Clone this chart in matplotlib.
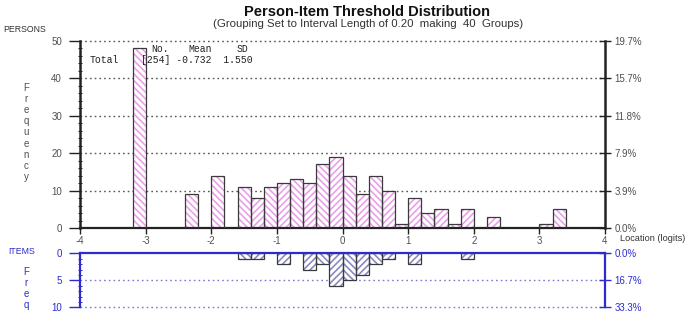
import matplotlib
matplotlib.use('Agg')
import matplotlib.pyplot as plt
from matplotlib.ticker import MultipleLocator

plt.rcParams['font.family'] = ['Liberation Sans', 'DejaVu Sans']
plt.rcParams['hatch.linewidth'] = 1.2

# ---------------- data ----------------
bin_width = 0.2
person_bin_left = [-3.2, -2.4, -2.0, -1.6, -1.4, -1.2, -1.0, -0.8, -0.6, -0.4,
                   -0.2, 0.0, 0.2, 0.4, 0.6, 0.8, 1.0, 1.2, 1.4, 1.6,
                   1.8, 2.2, 3.0, 3.2]
person_counts = [48, 9, 14, 11, 8, 11, 12, 13, 12, 17,
                 19, 14, 9, 14, 10, 1, 8, 4, 5, 1,
                 5, 3, 1, 5]
item_bin_left = [-1.6, -1.4, -1.0, -0.6, -0.4, -0.2, 0.0, 0.2, 0.4, 0.6, 1.0, 1.8]
item_counts = [1, 1, 2, 3, 2, 6, 5, 4, 2, 1, 2, 1]
x_ticks = [-4, -3, -2, -1, 0, 1, 2, 3, 4]
person_yticks = [0, 10, 20, 30, 40, 50]
item_yticks = [0, 5, 10]
persons_total = 254
persons_mean = -0.732
persons_sd = 1.550
items_total = 30

W, H = 689, 317
fig = plt.figure(figsize=(W / 100, H / 100), dpi=100)

GRAY = '#505050'
BLUE = '#2b2bd0'
EDGE = '#3a3a3a'
PINK = '#e9a0e9'
IHATCH = '#8a8ac0'


def hatch_for(left):
    idx = int(round((left + 4) / bin_width))
    return '\\\\\\\\\\' if idx % 2 == 0 else '/////'


# ---------------- upper (persons) ----------------
ax1 = fig.add_axes([80 / W, 1 - 228 / H, 525 / W, 187 / H])
ax1.set_xlim(-4, 4)
ax1.set_ylim(0, 50)
for l, c in zip(person_bin_left, person_counts):
    ax1.bar(l, c, width=bin_width, align='edge', color='white',
            edgecolor=PINK, hatch=hatch_for(l), linewidth=0, zorder=2)
ax1.bar(person_bin_left, person_counts, width=bin_width, align='edge',
        fill=False, edgecolor=EDGE, linewidth=0.9, zorder=3)
for y in person_yticks[1:]:
    ax1.axhline(y, color='#555555', linestyle=(0, (1.2, 2.2)), linewidth=1.0,
                zorder=1, clip_on=False)

ax1.spines['top'].set_visible(False)
ax1.spines['left'].set_linewidth(1.8)
ax1.spines['right'].set_linewidth(1.8)
ax1.spines['bottom'].set_linewidth(1.6)
for s in ['left', 'right', 'bottom']:
    ax1.spines[s].set_color('#222222')

ax1.set_xticks(x_ticks)
ax1.set_xticklabels([str(t) for t in x_ticks])
ax1.set_yticks(person_yticks)
ax1.yaxis.set_minor_locator(MultipleLocator(2))
ax1.tick_params(axis='y', which='major', length=8, width=1.0, color='#222222',
                labelsize=7, labelcolor=GRAY, pad=5, direction='out')
ax1.tick_params(axis='y', which='minor', length=3, width=0.7, color='#222222',
                direction='inout')
ax1.tick_params(axis='x', which='major', length=4, width=1.0, color='#222222',
                labelsize=7, labelcolor=GRAY, pad=2, direction='out')

ax1r = ax1.twinx()
ax1r.set_ylim(0, 50)
ax1r.set_yticks(person_yticks)
ax1r.set_yticklabels([f"{v / persons_total * 100:.1f}%" for v in person_yticks])
ax1r.tick_params(axis='y', length=8, width=1.0, color='#222222', direction='inout',
                 labelsize=7, labelcolor=GRAY, pad=3)
for s in ['top', 'left', 'bottom', 'right']:
    ax1r.spines[s].set_visible(False)

# statistics box
mono = dict(family='Liberation Mono', fontsize=7, color='#222222', va='center', ha='left')
fig.text(151 / W, 1 - 49.5 / H, 'No.', **mono)
fig.text(188 / W, 1 - 49.5 / H, 'Mean', **mono)
fig.text(237 / W, 1 - 49.5 / H, 'SD', **mono)
fig.text(90 / W, 1 - 60 / H, 'Total', **mono)
fig.text(141 / W, 1 - 60 / H, f'[{persons_total}] {persons_mean:.3f}  {persons_sd:.3f}', **mono)

# titles
fig.text(367 / W, 1 - 11.5 / H, 'Person-Item Threshold Distribution', fontsize=10.5,
         fontweight='bold', ha='center', va='center', color='#111111')
fig.text(368 / W, 1 - 24 / H, '(Grouping Set to Interval Length of 0.20  making  40  Groups)',
         fontsize=8.2, ha='center', va='center', color='#333333')
fig.text(3 / W, 1 - 30 / H, 'PERSONS', fontsize=6.3, ha='left', va='center', color='#333333')
for i, ch in enumerate('Frequency'):
    fig.text(26 / W, 1 - (88 + i * 11.1) / H, ch, fontsize=7, ha='center', va='center',
             color=GRAY)
fig.text(620 / W, 1 - 238.5 / H, 'Location (logits)', fontsize=6.6, ha='left', va='center',
         color='#333333')

# ---------------- lower (items) ----------------
ax2 = fig.add_axes([80 / W, 1 - 307.3 / H, 525 / W, 54 / H])
ax2.set_xlim(-4, 4)
ax2.set_ylim(10, 0)
for l, c in zip(item_bin_left, item_counts):
    ax2.bar(l, c, width=bin_width, align='edge', color='white',
            edgecolor=IHATCH, hatch=hatch_for(l), linewidth=0, zorder=2)
ax2.bar(item_bin_left, item_counts, width=bin_width, align='edge',
        fill=False, edgecolor=EDGE, linewidth=0.9, zorder=3)
for y in item_yticks[1:]:
    ax2.axhline(y, color='#7b7bd0', linestyle=(0, (1.2, 2.2)), linewidth=1.0,
                zorder=1, clip_on=False)
ax2.spines['bottom'].set_visible(False)
for s in ['top', 'left', 'right']:
    ax2.spines[s].set_color(BLUE)
    ax2.spines[s].set_linewidth(1.6)
ax2.spines['top'].set_zorder(4)
ax2.set_xticks([])
ax2.set_yticks(item_yticks)
ax2.yaxis.set_minor_locator(MultipleLocator(1))
ax2.tick_params(axis='y', which='major', length=8, width=1.0, color=BLUE,
                labelsize=7, labelcolor=BLUE, pad=5, direction='out')
ax2.tick_params(axis='y', which='minor', length=3, width=0.7, color=BLUE,
                direction='inout')

ax2r = ax2.twinx()
ax2r.set_ylim(10, 0)
ax2r.set_yticks(item_yticks)
ax2r.set_yticklabels([f"{v / items_total * 100:.1f}%" for v in item_yticks])
ax2r.tick_params(axis='y', length=8, width=1.0, color=BLUE, direction='inout',
                 labelsize=7, labelcolor=BLUE, pad=3)
for s in ['top', 'left', 'bottom', 'right']:
    ax2r.spines[s].set_visible(False)

fig.text(8 / W, 1 - 252 / H, 'ITEMS', fontsize=6.3, ha='left', va='center', color=BLUE)
for i, ch in enumerate('Freq'):
    fig.text(26 / W, 1 - (272 + i * 11) / H, ch, fontsize=7, ha='center', va='center',
             color=BLUE)

fig.savefig('out.png', dpi=100)
